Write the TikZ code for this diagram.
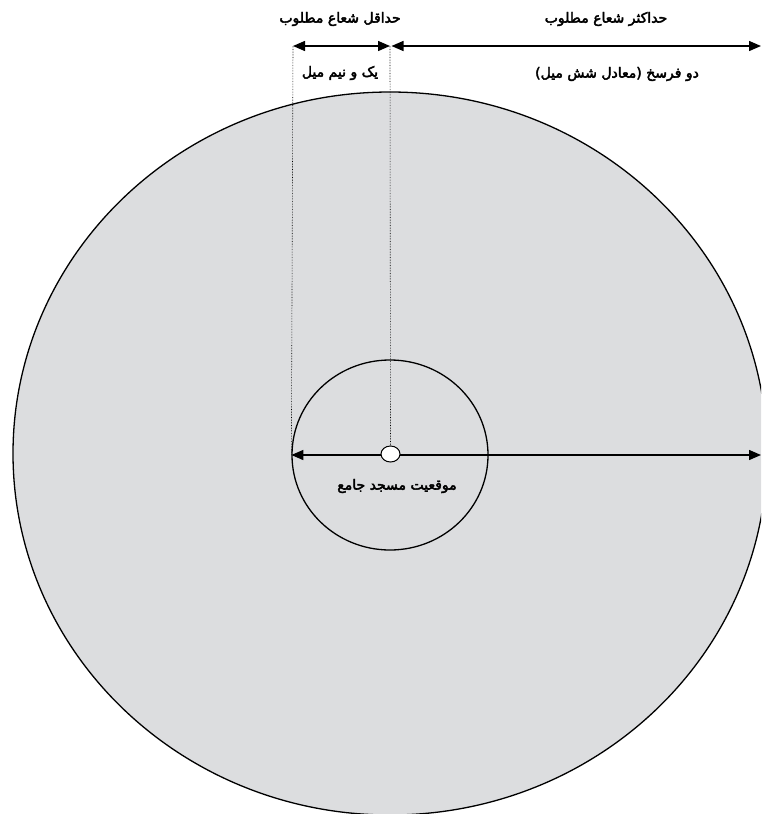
\documentclass[tikz,border=0pt]{standalone}
\usepackage{fontspec}
\newfontfamily\fafont[Script=Arabic,FakeBold=3]{DejaVu Sans}
\TeXXeTstate=1
\usetikzlibrary{arrows.meta,positioning,shapes.geometric}
\definecolor{zonegray}{HTML}{DCDDDF}

\begin{document}
\begin{tikzpicture}[x=1pt,y=-1pt,
    dim/.style={line width=1.4pt,{Triangle[length=12pt,width=10pt]}-{Triangle[length=12pt,width=10pt]}},
    guide/.style={densely dotted,line width=0.6pt},
    farsi/.style={font=\fafont\fontsize{14}{16}\selectfont,inner sep=1pt}]
  \useasboundingbox (0,0) rectangle (761,814);
  % outer zone, cut by the page
  \begin{scope}
    \clip (0,0) rectangle (761,814);
    \draw[fill=zonegray,line width=1.3pt] (390,453.5) ellipse [x radius=377,y radius=361.5];
  \end{scope}
  \coordinate (center) at (390,455);
  \node (inner) [draw,ellipse,line width=1.3pt,minimum width=196pt,minimum height=190pt,inner sep=0pt] at (center) {};
  \coordinate (outerE) at (761,455);
  \draw[dim] (inner.west) -- (outerE);
  \node (mosque) [draw,fill=white,ellipse,line width=1pt,minimum width=19pt,minimum height=16pt,inner sep=0pt] at (390.5,454) {};
  \node (mosquetext) [farsi] at (397,486) {\beginR موقعیت مسجد جامع\endR};
  % radii on top
  \coordinate (minL) at (293,46);
  \coordinate (minR) at (390,46);
  \coordinate (maxR) at (761,46);
  \draw[guide] (minL) -- (inner.west);
  \draw[guide] (minR) -- (mosque.north);
  \draw[dim] (minL) -- (minR);
  \draw[dim,shorten <=1.5pt] (minR) -- (maxR);
  \node (minhead) [farsi] at (340,19) {\beginR حداقل شعاع مطلوب\endR};
  \node (minval) [farsi] at (340,73) {\beginR یک و نیم میل\endR};
  \node (maxhead) [farsi] at (606,19) {\beginR حداکثر شعاع مطلوب\endR};
  \node (maxval) [farsi] at (617,74) {\beginR دو فرسخ (معادل شش میل)\endR};
\end{tikzpicture}
\end{document}
